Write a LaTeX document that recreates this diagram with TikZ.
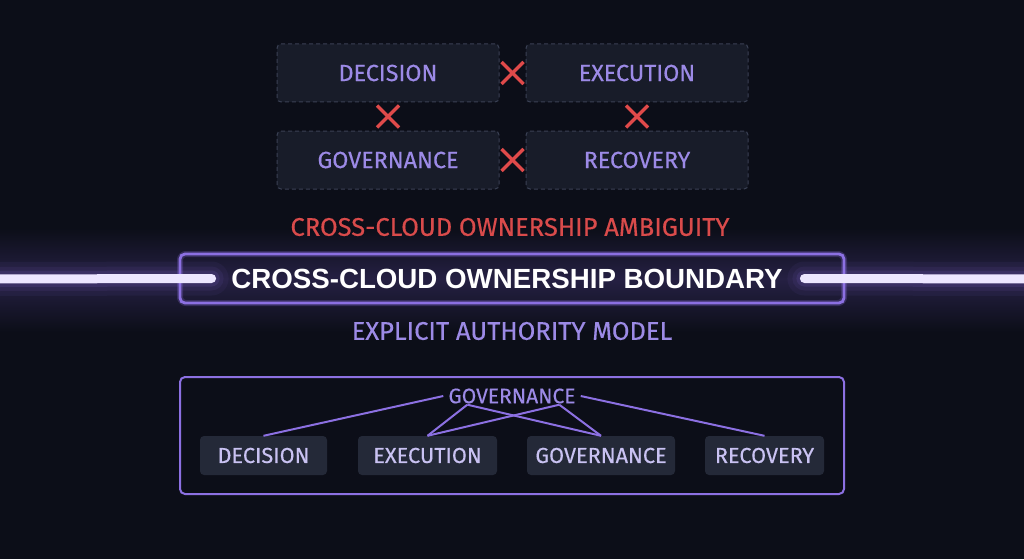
\documentclass[tikz,border=0pt]{standalone}
\usepackage{fontspec}
\setmainfont{Fira Sans}
\newfontfamily\condfont[FakeBold=0.35]{Fira Sans}
\newfontfamily\titlefont{Liberation Sans}
\usetikzlibrary{calc}
\definecolor{bg}{HTML}{0C0E18}
\definecolor{boxfill}{HTML}{181C29}
\definecolor{dashcol}{HTML}{3A4054}
\definecolor{lav}{HTML}{9C8AE6}
\definecolor{lavlight}{HTML}{C9C2F2}
\definecolor{redx}{HTML}{E04A4A}
\definecolor{redtxt}{HTML}{D94B4B}
\definecolor{border}{HTML}{8C70E2}
\definecolor{haze}{HTML}{252043}
\definecolor{beam}{HTML}{ECE6FF}
\definecolor{smallfill}{HTML}{242938}
\tikzset{
  dbox/.style={draw=dashcol, dash pattern=on 4pt off 3pt, line width=1pt, fill=boxfill,
    rounded corners=4pt, minimum width=222pt, minimum height=58pt, inner sep=0pt,
    text=lav, font=\condfont\fontsize{23.3}{23.3}\selectfont},
  xmark/.style={draw=redx, line width=3.4pt},
  sbox/.style={fill=smallfill, rounded corners=4pt, minimum height=39pt, inner sep=0pt,
    text=lavlight, font=\condfont\fontsize{21.7}{21.7}\selectfont},
  link/.style={draw=border, line width=2pt},
  beamline/.style={draw=beam, line width=9pt, line cap=round},
}
\begin{document}
\begin{tikzpicture}[x=1pt,y=-1pt]
\useasboundingbox (0,0) rectangle (1024,559);
\fill[bg] (0,0) rectangle (1024,559);
% haze band
\shade[top color=bg, bottom color=haze] (0,228) rectangle (1024,279);
\shade[top color=haze, bottom color=bg] (0,279) rectangle (1024,332);

% top grid
\node[dbox] (d1) at (388,73) {DECISION};
\node[dbox] (e1) at (637,73) {EXECUTION};
\node[dbox] (g1) at (388,160) {GOVERNANCE};
\node[dbox] (r1) at (637,160) {RECOVERY};

% crosses
\coordinate (x1) at ($(d1.east)!0.5!(e1.west)$);
\coordinate (x2) at ($(d1.south)!0.5!(g1.north)$);
\coordinate (x3) at ($(e1.south)!0.5!(r1.north)$);
\coordinate (x4) at ($(g1.east)!0.5!(r1.west)$);
\foreach \c in {x1,x2,x3,x4}{
  \draw[xmark] ([shift={(-11,-11)}]\c) -- ([shift={(11,11)}]\c);
  \draw[xmark] ([shift={(-11,11)}]\c) -- ([shift={(11,-11)}]\c);
}

\node[text=redtxt, font=\condfont\fontsize{25.5}{25.5}\selectfont] (amb) at (510,227) {CROSS-CLOUD OWNERSHIP AMBIGUITY};

% boundary
\draw[border, line width=6pt, opacity=0.25, rounded corners=6pt] (180,254) rectangle (844,303);
\node[draw=border, line width=2.8pt, rounded corners=5pt, minimum width=664pt, minimum height=49pt,
  inner sep=0pt] (bnd) at (512,278.5) {};
\node[text=white, font=\titlefont\bfseries\fontsize{27.7}{27.7}\selectfont] (title) at (507,279) {CROSS-CLOUD OWNERSHIP BOUNDARY};
\coordinate (lend) at (0,279);
\coordinate (rend) at (1024,279);
\foreach \w/\o in {34/0.06,24/0.08,16/0.12}{
  \draw[border, line width=\w pt, opacity=\o, line cap=round] (lend) -- ([xshift=33pt]bnd.west);
  \draw[border, line width=\w pt, opacity=\o, line cap=round] ([xshift=-41pt]bnd.east) -- (rend);
}
\draw[beamline] ([xshift=-20pt]lend) -- ([xshift=33pt]bnd.west);
\draw[beamline] ([xshift=-41pt]bnd.east) -- ([xshift=20pt]rend);

\node[text=lav, font=\condfont\fontsize{25.5}{25.5}\selectfont] (model) at (512,331) {EXPLICIT AUTHORITY MODEL};

% bottom box
\node[draw=border, line width=2pt, rounded corners=5pt, minimum width=664pt, minimum height=117pt,
  inner sep=0pt] (frame) at (512,435.5) {};
\node[text=lav, font=\condfont\fontsize{21}{21}\selectfont, inner sep=2pt] (gov) at (512,396) {GOVERNANCE};
\node[sbox, minimum width=127pt] (d2) at (263.5,455.5) {DECISION};
\node[sbox, minimum width=139pt] (e2) at (427.5,455.5) {EXECUTION};
\node[sbox, minimum width=148pt] (g2) at (601,455.5) {GOVERNANCE};
\node[sbox, minimum width=119pt] (r2) at (764.5,455.5) {RECOVERY};

\coordinate (ga) at ($(gov.south west)!0.16!(gov.south east)+(0,-1)$);
\coordinate (gb) at ($(gov.south west)!0.86!(gov.south east)+(0,-1)$);
\draw[link] ([xshift=-3pt]gov.west) -- (d2.north);
\draw[link] ([xshift=3pt]gov.east) -- (r2.north);
\draw[link] (ga) -- (e2.north);
\draw[link] (ga) -- (g2.north);
\draw[link] (gb) -- (e2.north);
\draw[link] (gb) -- (g2.north);
\end{tikzpicture}
\end{document}
